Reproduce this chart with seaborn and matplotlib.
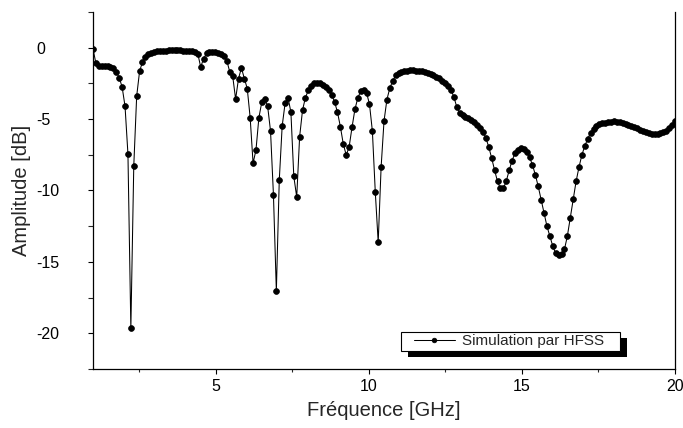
import numpy as np
import matplotlib
matplotlib.use('Agg')
import matplotlib.pyplot as plt
import seaborn as sns
from matplotlib.patches import Rectangle
from matplotlib.ticker import MultipleLocator

# Balayage HFSS : 201 points de 1 a 20 GHz
freq_start, freq_stop, n_points = 1.0, 20.0, 201

# Amplitude (dB), par tranches de frequence
amp_1_3ghz = [-0.1, -1.1, -1.25, -1.3, -1.3, -1.3, -1.35, -1.45, -1.7, -2.1,
              -2.75, -4.1, -7.45, -19.65, -8.3, -3.4, -1.65, -1.0, -0.65, -0.47,
              -0.35, -0.28]
amp_3_5ghz = [-0.24, -0.22, -0.2, -0.2, -0.19, -0.19, -0.19, -0.19, -0.19, -0.2,
              -0.2, -0.21, -0.23, -0.27, -0.42, -1.35, -0.77, -0.4, -0.3, -0.28,
              -0.3, -0.35, -0.45, -0.6]
amp_5_8ghz = [-0.93, -1.7, -2.0, -3.6, -2.16, -1.42, -2.16, -2.86, -4.9, -8.09,
              -7.16, -4.9, -3.81, -3.56, -4.09, -5.84, -10.3, -17.04, -9.3, -5.49,
              -3.9, -3.49, -4.51, -9.02, -10.46, -6.23, -4.37, -3.49, -2.98, -2.7]
amp_8_11ghz = [-2.5, -2.45, -2.46, -2.58, -2.74, -2.98, -3.28, -3.79, -4.51, -5.53,
               -6.74, -7.51, -6.97, -5.58, -4.32, -3.51, -3.05, -2.93, -3.16, -3.95,
               -5.84, -10.11, -13.62, -8.37, -5.14, -3.63, -2.82, -2.33]
amp_11_14ghz = [-1.93, -1.74, -1.67, -1.63, -1.6, -1.59, -1.59, -1.6, -1.62, -1.66,
                -1.71, -1.77, -1.84, -1.93, -2.03, -2.15, -2.3, -2.45, -2.7, -2.95,
                -3.45, -4.15, -4.55, -4.72, -4.83, -4.93, -5.03, -5.17, -5.38, -5.62]
amp_14_17ghz = [-5.88, -6.33, -6.95, -7.74, -8.58, -9.37, -9.86, -9.86, -9.35, -8.6,
                -7.91, -7.39, -7.16, -7.04, -7.11, -7.32, -7.67, -8.2, -8.9, -9.72,
                -10.65, -11.58, -12.51, -13.2, -13.9, -14.41, -14.55, -14.48, -14.13, -13.2,
                -11.92, -10.6, -9.37, -8.37, -7.51, -6.88, -6.39]
amp_17_20ghz = [-5.95, -5.7, -5.5, -5.37, -5.3, -5.24, -5.2, -5.17, -5.16, -5.17,
                -5.2, -5.25, -5.32, -5.39, -5.47, -5.56, -5.65, -5.75, -5.84, -5.92,
                -5.98, -6.03, -6.05, -6.05, -6.0, -5.92, -5.8, -5.62, -5.4, -5.1]

amplitude = np.array(amp_1_3ghz + amp_3_5ghz + amp_5_8ghz + amp_8_11ghz
                     + amp_11_14ghz + amp_14_17ghz + amp_17_20ghz)
frequence = np.linspace(freq_start, freq_stop, n_points)

sns.set_style("ticks")
plt.rcParams['font.family'] = ['Liberation Sans', 'DejaVu Sans']
plt.rcParams['axes.unicode_minus'] = False

fig = plt.figure(figsize=(6.83, 4.28), dpi=100)
ax = fig.add_axes([0.1362, 0.1379, 0.8521, 0.8341])

sns.lineplot(x=frequence, y=amplitude, ax=ax, color='black', linewidth=0.75,
             marker='o', markersize=4.2, markeredgecolor='black', markeredgewidth=0.5,
             label='Simulation par HFSS')

ax.set_xlim(1, 20)
ax.set_ylim(-22.5, 2.5)
ax.xaxis.set_major_locator(MultipleLocator(5))
ax.xaxis.set_minor_locator(MultipleLocator(2.5))
ax.yaxis.set_major_locator(MultipleLocator(5))
ax.yaxis.set_minor_locator(MultipleLocator(2.5))
ax.tick_params(which='major', direction='out', length=3.6, width=0.8, labelsize=11.5, colors='black')
ax.tick_params(axis='x', which='minor', direction='out', length=2.5, width=0.8)
ax.tick_params(axis='y', which='minor', direction='out', length=3.6, width=0.8)
# etiquettes de l'axe Y alignees a gauche (style Origin)
ax.tick_params(axis='y', which='major', pad=37)
for lab in ax.get_yticklabels():
    lab.set_horizontalalignment('left')

for side in ['left', 'bottom', 'right']:
    ax.spines[side].set_color('black')
    ax.spines[side].set_linewidth(0.9)
ax.spines['top'].set_visible(False)

ax.set_xlabel("Fréquence [GHz]", fontsize=14.5, labelpad=5)
ax.set_ylabel("Amplitude [dB]", fontsize=14.5)
ax.yaxis.set_label_coords(-0.106, 0.5)

# legende : cadre noir avec ombre decalee
leg = ax.legend(loc='center left', bbox_to_anchor=(0.5518, 0.077), fontsize=11,
                frameon=False, borderpad=0, borderaxespad=0,
                handlelength=2.65, handletextpad=0.45, markerscale=0.8)
leg.set_zorder(7)
box_x, box_y, box_w, box_h = 0.5295, 0.0504, 0.376, 0.0532
ax.add_patch(Rectangle((box_x + 0.012, box_y - 0.0168), box_w, box_h, transform=ax.transAxes,
                       facecolor='black', edgecolor='none', zorder=5, clip_on=False))
ax.add_patch(Rectangle((box_x, box_y), box_w, box_h, transform=ax.transAxes,
                       facecolor='white', edgecolor='black', linewidth=0.8, zorder=6,
                       clip_on=False))

fig.savefig("out.png", dpi=100)
